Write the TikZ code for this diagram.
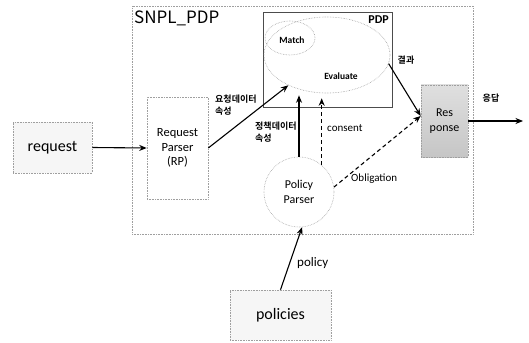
\documentclass[tikz,border=0pt]{standalone}
\usepackage{fontspec}
\setmainfont{Carlito}
\newfontfamily\kr{Noto Sans CJK KR}
\newfontfamily\krb{Noto Sans CJK KR}[BoldFont=* Bold]
\usetikzlibrary{arrows.meta,shapes.geometric}

\tikzset{
  dotbox/.style={draw=gray!75, densely dotted, line width=0.6pt},
  plainbox/.style={dotbox, rectangle, inner sep=0pt},
  arr/.style={-{Stealth[length=7.5pt,width=6pt]}, line width=1.1pt, black},
  darr/.style={arr, dashed, dash pattern=on 4pt off 3pt},
  krlabel/.style={font=\krb\bfseries\fontsize{9}{12.5}\selectfont, align=left, inner sep=0pt},
  txt/.style={inner sep=0pt, align=center},
}

\begin{document}
\begin{tikzpicture}[x=1pt, y=-1pt]
  \useasboundingbox (0,0) rectangle (529,342);

  % outer SNPL_PDP component
  \node[plainbox, minimum width=341pt, minimum height=228pt] (snpl) at (302.5,120) {};
  \node[anchor=west, inner sep=0pt, font=\kr\fontsize{17}{20}\selectfont] (snpltitle) at (134,18) {SNPL\_PDP};

  % PDP box with Match / Evaluate ellipses
  \node[rectangle, draw=black!70, line width=0.7pt, minimum width=129pt, minimum height=95pt, inner sep=0pt] (pdp) at (327.5,60) {};
  \node[anchor=north east, inner sep=0pt, font=\bfseries\fontsize{12}{14}\selectfont] (pdptitle) at (389,16) {PDP};
  \node[ellipse, dotbox, minimum width=126pt, minimum height=76pt, inner sep=0pt] (eval) at (327,55) {};
  \node[ellipse, dotbox, minimum width=50pt, minimum height=34pt, inner sep=0pt] (match) at (290,38) {};
  \node[txt, font=\bfseries\fontsize{9.5}{11}\selectfont] (matchlbl) at (292,40) {Match};
  \node[txt, font=\bfseries\fontsize{9.5}{11}\selectfont] (evallbl) at (341,76) {Evaluate};

  % request and parser
  \node[plainbox, fill=gray!7, minimum width=79pt, minimum height=51pt,
        font=\fontsize{16}{19}\selectfont] (req) at (52.5,147.5) {request};
  \node[plainbox, minimum width=61pt, minimum height=102pt, align=center,
        font=\fontsize{12.5}{14.5}\selectfont] (rp) at (177.5,148) {Request\\Parser\\(RP)};

  % policy parser and policies
  \node[circle, dotbox, minimum size=70pt, inner sep=0pt, align=center,
        font=\fontsize{12}{15}\selectfont] (pp) at (299,192) {Policy\\Parser};
  \node[plainbox, fill=gray!7, minimum width=101pt, minimum height=50pt,
        font=\fontsize{16}{19}\selectfont] (pol) at (280.5,315) {policies};

  % response
  \node[plainbox, top color=gray!25, bottom color=gray!45, draw=gray!75, minimum width=47pt, minimum height=72pt, align=center,
        font=\fontsize{12}{15}\selectfont] (resp) at (444.5,121) {Res\\ponse};
  \coordinate (respin) at ([yshift=5pt]resp.west);
  \coordinate (out) at (523,121);

  % connectors
  \draw[arr] (req.east) -- (rp.west);
  \draw[arr] (rp.east) -- (eval);
  \draw[arr] (pp.north) -- ([yshift=-2pt]pp.north |- eval.south);
  \draw[darr] (pp.50) -- ([yshift=-5pt]pp.50 |- eval.south);
  \draw[arr] (eval.-8) -- (respin);
  \draw[darr] (pp.8) -- (respin);
  \draw[arr] (resp.east) -- (out);
  \draw[arr] (pol.north) -- (pp.-85);

  % connector labels
  \node[krlabel, anchor=west] (l1) at (215,105) {요청데이터\\속성};
  \node[krlabel, anchor=west] (l2) at (255,132) {정책데이터\\속성};
  \node[krlabel] (l3) at (406,60) {결과};
  \node[krlabel] (l4) at (491,98) {응답};
  \node[anchor=west, inner sep=0pt, font=\fontsize{11}{13}\selectfont] (l5) at (327,128) {consent};
  \node[anchor=west, inner sep=0pt, font=\fontsize{11}{13}\selectfont] (l6) at (351,179) {Obligation};
  \node[anchor=west, inner sep=0pt, font=\fontsize{13}{15}\selectfont] (l7) at (297,263) {policy};
\end{tikzpicture}
\end{document}
